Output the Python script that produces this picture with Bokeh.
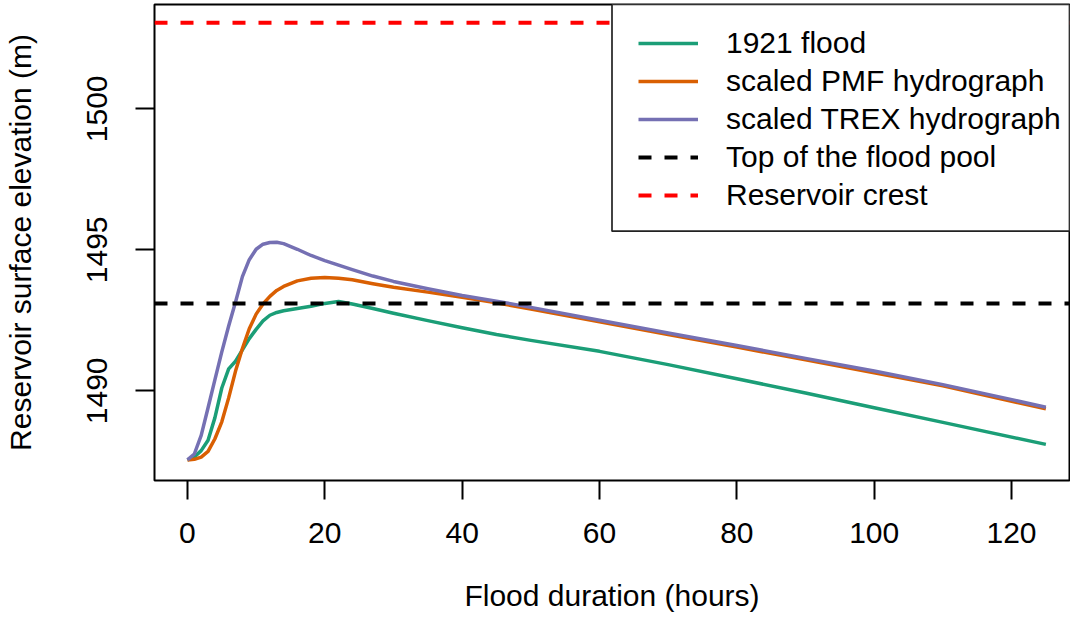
from bokeh.plotting import figure
from bokeh.models import FixedTicker, Legend, LegendItem, BoxAnnotation, Range1d
from bokeh.embed import file_html
from bokeh.resources import INLINE

# ---- data ----
hours = [0, 1, 2, 3, 4, 5, 6, 7, 8, 9, 10, 11, 12, 13, 14, 16, 18, 20, 22, 24,
         27, 30, 35, 40, 45, 50, 60, 70, 80, 90, 100, 110, 125]
flood_1921 = [1487.55, 1487.65, 1487.88, 1488.25, 1489.05, 1490.10, 1490.78, 1491.05,
              1491.45, 1491.85, 1492.18, 1492.48, 1492.68, 1492.78, 1492.84, 1492.92,
              1493.00, 1493.10, 1493.17, 1493.08, 1492.92, 1492.75, 1492.49, 1492.24,
              1492.00, 1491.79, 1491.40, 1490.93, 1490.43, 1489.92, 1489.40, 1488.88,
              1488.10]
scaled_pmf = [1487.55, 1487.57, 1487.65, 1487.85, 1488.30, 1488.90, 1489.75, 1490.70,
              1491.50, 1492.20, 1492.72, 1493.08, 1493.35, 1493.56, 1493.70, 1493.90,
              1493.99, 1494.02, 1493.99, 1493.94, 1493.80, 1493.67, 1493.50, 1493.32,
              1493.12, 1492.90, 1492.45, 1492.00, 1491.55, 1491.10, 1490.64, 1490.18,
              1489.36]
scaled_trex = [1487.55, 1487.76, 1488.42, 1489.40, 1490.40, 1491.38, 1492.30, 1493.15,
               1494.05, 1494.65, 1495.02, 1495.20, 1495.26, 1495.27, 1495.22, 1495.02,
               1494.80, 1494.62, 1494.46, 1494.30, 1494.07, 1493.88, 1493.62, 1493.38,
               1493.18, 1492.96, 1492.50, 1492.05, 1491.61, 1491.15, 1490.70, 1490.22,
               1489.42]
flood_pool_top = 1493.1
reservoir_crest = 1503.05
x_ticks = [0, 20, 40, 60, 80, 100, 120]
y_ticks = [1490, 1495, 1500]
series_names = ["1921 flood", "scaled PMF hydrograph", "scaled TREX hydrograph",
                "Top of the flood pool", "Reservoir crest"]

FONT = "Liberation Sans"
FS = "30px"

x_lo, x_hi = -4.8, 128.44
y_lo, y_hi = 1486.82, 1503.70

p = figure(width=1070, height=617,
           x_range=Range1d(x_lo, x_hi), y_range=Range1d(y_lo, y_hi),
           output_backend="svg", toolbar_location=None,
           min_border_left=153, min_border_right=1, min_border_top=4,
           min_border_bottom=137)
p.background_fill_color = "white"
p.border_fill_color = "white"
p.outline_line_color = "black"
p.outline_line_width = 2
p.grid.visible = False

r_green = p.line(hours, flood_1921, line_color="#1B9E77", line_width=3.5, line_join="round")
r_orange = p.line(hours, scaled_pmf, line_color="#D95F02", line_width=3.5, line_join="round")
r_purple = p.line(hours, scaled_trex, line_color="#7570B3", line_width=3.5, line_join="round")
r_pool = p.line([x_lo, x_hi], [flood_pool_top, flood_pool_top], line_color="black",
                line_width=4, line_dash="13 13")
r_crest = p.line([x_lo, x_hi], [reservoir_crest, reservoir_crest], line_color="#FF0000",
                 line_width=4, line_dash="13 13")

for ax in (p.xaxis[0], p.yaxis[0]):
    ax.axis_line_color = None
    ax.major_tick_out = 19
    ax.major_tick_in = 0
    ax.major_tick_line_width = 2
    ax.major_tick_line_color = "black"
    ax.minor_tick_line_color = None
    ax.major_label_text_font = FONT
    ax.major_label_text_font_size = FS
    ax.major_label_text_color = "black"
    ax.axis_label_text_font = FONT
    ax.axis_label_text_font_size = FS
    ax.axis_label_text_font_style = "normal"
    ax.axis_label_text_color = "black"

p.xaxis.ticker = FixedTicker(ticks=x_ticks)
p.yaxis.ticker = FixedTicker(ticks=y_ticks)
p.xaxis.axis_label = "Flood duration (hours)"
p.yaxis.axis_label = "Reservoir surface elevation (m)"
p.xaxis.major_label_standoff = 23
p.xaxis.axis_label_standoff = 33
p.yaxis.major_label_orientation = "vertical"
p.yaxis.major_label_standoff = 28
p.yaxis.axis_label_standoff = 48

box = BoxAnnotation(left=61.82, bottom=1495.66, fill_color="white", fill_alpha=1.0,
                    line_color="#222222", line_width=1.7, line_alpha=1.0)
p.add_layout(box)

legend = Legend(items=[
    LegendItem(label=series_names[0], renderers=[r_green]),
    LegendItem(label=series_names[1], renderers=[r_orange]),
    LegendItem(label=series_names[2], renderers=[r_purple]),
    LegendItem(label=series_names[3], renderers=[r_pool]),
    LegendItem(label=series_names[4], renderers=[r_crest]),
], location=(484, 266))
legend.padding = 0
legend.margin = 0
legend.spacing = 0
legend.border_line_color = None
legend.background_fill_alpha = 0
legend.glyph_width = 60
legend.glyph_height = 38
legend.label_height = 38
legend.label_standoff = 28
legend.label_text_font = FONT
legend.label_text_font_size = FS
legend.label_text_color = "black"
p.add_layout(legend)

open("out.html", "w").write(file_html(p, INLINE))
